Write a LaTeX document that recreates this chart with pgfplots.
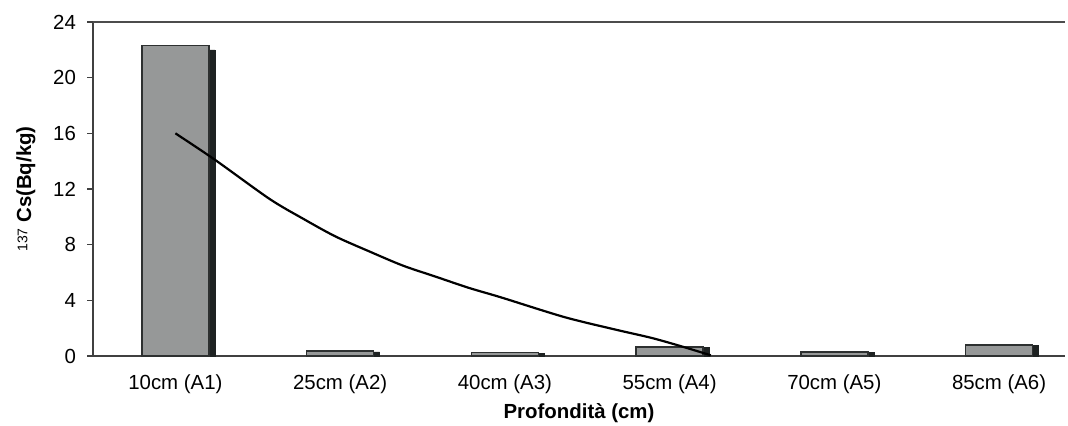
\documentclass[border=0pt]{standalone}
\usepackage{fontspec}
\setmainfont{Liberation Sans}
\usepackage{pgfplots}
\pgfplotsset{compat=1.18}
\definecolor{barfill}{RGB}{150,152,152}
\definecolor{bardraw}{RGB}{45,48,48}
\definecolor{shadow}{RGB}{30,34,34}
\begin{document}
\begin{tikzpicture}
\useasboundingbox (0,0) rectangle (534pt,213pt);
\begin{axis}[
  at={(46.5pt,35pt)}, anchor=south west,
  scale only axis, width=486pt, height=167pt,
  xmin=-0.5, xmax=5.4, ymin=0, ymax=24,
  ytick={0,4,8,12,16,20,24},
  xtick={0,1,2,3,4,5},
  xticklabels={10cm (A1),25cm (A2),40cm (A3),55cm (A4),70cm (A5),85cm (A6)},
  axis x line*=bottom, axis y line*=left,
  axis line style={draw=black!75, line width=0.6pt},
  x tick style={draw=none},
  y tick style={draw=black!75, line width=0.6pt},
  tick align=outside, major tick length=3pt,
  /pgf/number format/assume math mode=true,
  ticklabel style={font=\fontsize{10.2}{12}\selectfont},
  xticklabel style={yshift=-3pt},
  yticklabel style={xshift=-2pt},
  xlabel={\textbf{Profondità (cm)}},
  xlabel style={font=\fontsize{10.2}{12}\selectfont, yshift=2pt},
  ylabel={{\fontsize{7}{8}\selectfont\raisebox{0.5ex}{137}}\ \textbf{Cs(Bq/kg)}},
  ylabel style={font=\fontsize{10.2}{12}\selectfont, yshift=2pt},
  ybar,
  clip=false,
]
\draw[black!70, line width=0.6pt] (rel axis cs:0,1) -- (rel axis cs:1,1);
% shadow bars
\addplot[ybar, bar width=33.5pt, bar shift=3pt, fill=shadow, draw=shadow, line width=0.3pt]
  coordinates {(0,22.0) (1,0.30) (2,0.20) (3,0.60) (4,0.25) (5,0.75)};
% main bars
\addplot[ybar, bar width=33.5pt, bar shift=0pt, fill=barfill, draw=bardraw, line width=0.8pt]
  coordinates {(0,22.3) (1,0.35) (2,0.25) (3,0.65) (4,0.30) (5,0.80)};
% trend line
\addplot[sharp plot, black, line width=1.1pt, smooth, tension=0.5]
  coordinates {
  (0,16.0) (0.24,14.1) (0.57,11.3) (0.77,9.9) (0.97,8.6)
  (1.18,7.5) (1.38,6.5) (1.58,5.7) (1.78,4.9) (1.98,4.2)
  (2.36,2.8) (2.67,1.9) (2.89,1.3) (3.07,0.7) (3.25,0.05)};
\end{axis}
\end{tikzpicture}
\end{document}
